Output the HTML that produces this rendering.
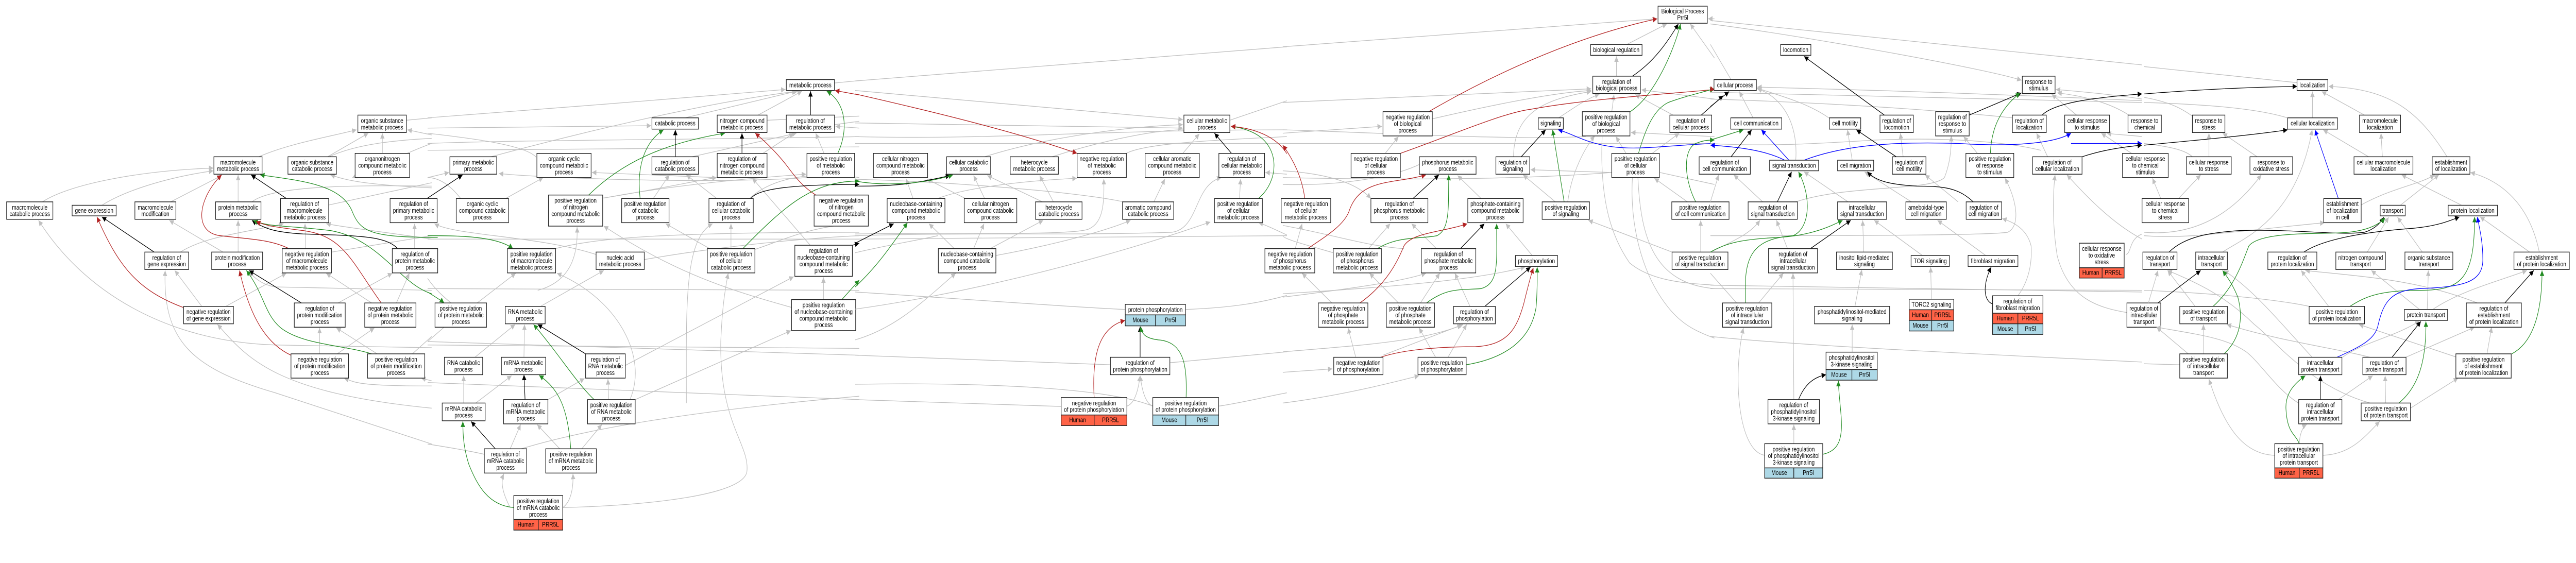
<!DOCTYPE html>
<html><head><meta charset="utf-8"><style>
html,body{margin:0;padding:0;background:#fff;width:100%;height:100%;overflow:hidden}
svg{display:block;width:100vw;height:100vh}
rect{fill:#fff;stroke:#222;stroke-width:2.2}
rect.h{fill:#ff6347}
rect.m{fill:#add8e6}
text{font-family:"Liberation Sans",Arial,sans-serif;font-size:19px;text-anchor:middle;fill:#000}
path{fill:none;stroke-width:2}
.e{stroke:#c0c0c0;marker-end:url(#ag)}
.n{stroke:#c0c0c0}
.k{stroke:#000;marker-end:url(#ak)}
.r{stroke:#b22222;marker-end:url(#ar)}
.gr{stroke:#228b22;marker-end:url(#agr)}
.b{stroke:#0000ff;marker-end:url(#ab)}
</style></head><body>
<svg viewBox="0 0 6205 1093" preserveAspectRatio="none" xmlns="http://www.w3.org/2000/svg">
<defs>
<marker id="ag" viewBox="0 0 10 10" refX="10" refY="5" markerWidth="16" markerHeight="16" markerUnits="userSpaceOnUse" orient="auto"><path d="M0,0L10,5L0,10z" style="fill:#c0c0c0;stroke:none"/></marker>
<marker id="ak" viewBox="0 0 10 10" refX="10" refY="5" markerWidth="16" markerHeight="16" markerUnits="userSpaceOnUse" orient="auto"><path d="M0,0L10,5L0,10z" style="fill:#000;stroke:none"/></marker>
<marker id="ar" viewBox="0 0 10 10" refX="10" refY="5" markerWidth="16" markerHeight="16" markerUnits="userSpaceOnUse" orient="auto"><path d="M0,0L10,5L0,10z" style="fill:#b22222;stroke:none"/></marker>
<marker id="agr" viewBox="0 0 10 10" refX="10" refY="5" markerWidth="16" markerHeight="16" markerUnits="userSpaceOnUse" orient="auto"><path d="M0,0L10,5L0,10z" style="fill:#228b22;stroke:none"/></marker>
<marker id="ab" viewBox="0 0 10 10" refX="10" refY="5" markerWidth="16" markerHeight="16" markerUnits="userSpaceOnUse" orient="auto"><path d="M0,0L10,5L0,10z" style="fill:#0000ff;stroke:none"/></marker>
</defs>

<!-- REGION 1 -->
<g transform="translate(0,0) scale(0.6631)">
<path class="e" d="M154,591 C250,540 500,500 775,492"/>
<path class="e" d="M370,601 C450,560 600,520 775,500"/>
<path class="e" d="M620,591 L805,514"/>
<path class="e" d="M865,591 L865,512"/>
<path class="e" d="M940,459 C1050,420 1200,400 1295,380"/>
<path class="e" d="M1190,459 L1338,390"/>
<path class="e" d="M1389,449 L1389,390"/>
<path class="n" d="M1476,352 L1568,345"/>
<path class="e" d="M1568,395 L1480,380"/>
<path class="n" d="M1195,459 C1300,420 1450,410 1568,405"/>
<path class="e" d="M865,738 L865,645"/>
<path class="e" d="M810,738 L615,645"/>
<path class="e" d="M655,738 C750,690 900,680 1030,655"/>
<path class="e" d="M733,897 L635,792"/>
<path class="e" d="M820,897 L1040,800"/>
<path class="e" d="M1110,728 L1108,655"/>
<path class="n" d="M1205,738 L1568,690"/>
<path class="e" d="M1506,728 L1506,655"/>
<path class="e" d="M1228,887 L1425,800"/>
<path class="e" d="M1350,887 L1185,800"/>
<path class="e" d="M1440,887 L1487,800"/>
<path class="e" d="M1161,1036 L1161,960"/>
<path class="e" d="M1225,1036 L1360,960"/>
<path class="e" d="M1370,1036 L1222,960"/>
<path class="n" d="M1498,1036 L1568,985"/>
<path class="e" d="M1568,1018 L1000,1010 C600,1000 300,850 140,645"/>
<path class="e" d="M1568,1300 L1000,1150 C700,1080 590,1000 600,792"/>
<path class="e" d="M1568,1195 C1000,1150 900,1050 790,950"/>
<path class="e" d="M1568,1130 C1300,1130 1290,1120 1250,1107"/>
<path class="e" d="M1568,1115 L1530,1107"/>
<path class="n" d="M915,591 C980,550 1200,540 1568,545"/>
<path class="n" d="M1195,600 L1568,535"/>
<path class="e" d="M1568,550 C1300,540 1250,525 1200,512"/>
<path class="e" d="M1568,850 L1000,840 C960,835 930,820 905,795"/>
<path class="e" d="M1568,700 C1400,680 1250,665 1185,655"/>
<path class="e" d="M1568,420 C1500,440 1420,470 1280,520"/>
<path class="k" d="M560,738 L370,635"/>
<path class="r" d="M665,900 C500,850 430,780 352,635"/>
<path class="k" d="M1040,581 L912,512"/>
<path class="gr" d="M1590,695 C1350,695 1310,680 1280,620 C1240,540 1100,530 945,512"/>
<path class="r" d="M1050,728 C980,700 900,700 800,690 C700,680 720,580 805,512"/>
<path class="k" d="M1445,728 C1400,690 1300,690 1100,685 C1000,680 960,670 915,645"/>
<path class="gr" d="M1568,860 C1450,830 1380,700 1200,675 C1050,660 970,665 920,645"/>
<path class="r" d="M1385,887 C1280,770 1250,690 1100,675 C1000,665 960,660 930,648"/>
<path class="k" d="M1095,887 L905,792"/>
<path class="r" d="M1057,1040 C950,1000 900,900 870,792"/>
<path class="gr" d="M1350,1036 C1250,1010 1100,1010 1020,960 C960,920 960,860 895,792"/>

<rect x="1300" y="337" width="176" height="51"/><text x="1388" y="359.5"><tspan x="1388">organic substance</tspan><tspan x="1388" dy="19.5">metabolic process</tspan></text>
<rect x="777" y="459" width="175" height="51"/><text x="864.5" y="481.5"><tspan x="864.5">macromolecule</tspan><tspan x="864.5" dy="19.5">metabolic process</tspan></text>
<rect x="1046" y="459" width="176" height="51"/><text x="1134" y="481.5"><tspan x="1134">organic substance</tspan><tspan x="1134" dy="19.5">catabolic process</tspan></text>
<rect x="1290" y="449" width="198" height="71"/><text x="1389" y="471.5"><tspan x="1389">organonitrogen</tspan><tspan x="1389" dy="19.5">compound metabolic</tspan><tspan x="1389" dy="19.5">process</tspan></text>
<rect x="24" y="591" width="168" height="51"/><text x="108" y="613.5"><tspan x="108">macromolecule</tspan><tspan x="108" dy="19.5">catabolic process</tspan></text>
<rect x="262" y="601" width="160" height="31"/><text x="342" y="623">gene expression</text>
<rect x="490" y="591" width="149" height="51"/><text x="564.5" y="613.5"><tspan x="564.5">macromolecule</tspan><tspan x="564.5" dy="19.5">modification</tspan></text>
<rect x="783" y="591" width="165" height="51"/><text x="865.5" y="613.5"><tspan x="865.5">protein metabolic</tspan><tspan x="865.5" dy="19.5">process</tspan></text>
<rect x="1019" y="581" width="175" height="71"/><text x="1106.5" y="603.5"><tspan x="1106.5">regulation of</tspan><tspan x="1106.5" dy="19.5">macromolecule</tspan><tspan x="1106.5" dy="19.5">metabolic process</tspan></text>
<rect x="1417" y="581" width="171" height="71"/><text x="1502.5" y="603.5"><tspan x="1502.5">regulation of</tspan><tspan x="1502.5" dy="19.5">primary metabolic</tspan><tspan x="1502.5" dy="19.5">process</tspan></text>
<rect x="526" y="738" width="159" height="51"/><text x="605.5" y="760.5"><tspan x="605.5">regulation of</tspan><tspan x="605.5" dy="19.5">gene expression</tspan></text>
<rect x="769" y="738" width="185" height="51"/><text x="861.5" y="760.5"><tspan x="861.5">protein modification</tspan><tspan x="861.5" dy="19.5">process</tspan></text>
<rect x="1025" y="728" width="179" height="71"/><text x="1114.5" y="750.5"><tspan x="1114.5">negative regulation</tspan><tspan x="1114.5" dy="19.5">of macromolecule</tspan><tspan x="1114.5" dy="19.5">metabolic process</tspan></text>
<rect x="1425" y="728" width="165" height="71"/><text x="1507.5" y="750.5"><tspan x="1507.5">regulation of</tspan><tspan x="1507.5" dy="19.5">protein metabolic</tspan><tspan x="1507.5" dy="19.5">process</tspan></text>
<rect x="667" y="897" width="181" height="51"/><text x="757.5" y="919.5"><tspan x="757.5">negative regulation</tspan><tspan x="757.5" dy="19.5">of gene expression</tspan></text>
<rect x="1069" y="887" width="185" height="71"/><text x="1161.5" y="909.5"><tspan x="1161.5">regulation of</tspan><tspan x="1161.5" dy="19.5">protein modification</tspan><tspan x="1161.5" dy="19.5">process</tspan></text>
<rect x="1325" y="887" width="186" height="71"/><text x="1418" y="909.5"><tspan x="1418">negative regulation</tspan><tspan x="1418" dy="19.5">of protein metabolic</tspan><tspan x="1418" dy="19.5">process</tspan></text>
<rect x="1057" y="1036" width="209" height="71"/><text x="1161.5" y="1058.5"><tspan x="1161.5">negative regulation</tspan><tspan x="1161.5" dy="19.5">of protein modification</tspan><tspan x="1161.5" dy="19.5">process</tspan></text>
<rect x="1335" y="1036" width="208" height="71"/><text x="1439" y="1058.5"><tspan x="1439">positive regulation</tspan><tspan x="1439" dy="19.5">of protein modification</tspan><tspan x="1439" dy="19.5">process</tspan></text>
</g>

<!-- REGION 2 -->
<g transform="translate(1030,0) scale(0.6631)">
<path class="e" d="M0,345 C400,320 900,290 1300,262"/>
<path class="e" d="M230,459 C500,400 1000,300 1345,267"/>
<path class="e" d="M935,345 L1340,267"/>
<path class="e" d="M1200,337 L1360,267"/>
<path class="e" d="M0,375 L812,368"/>
<path class="n" d="M1233,352 L1568,340"/>
<path class="n" d="M1478,365 L1568,355"/>
<path class="e" d="M1568,375 L1482,370"/>
<path class="n" d="M1478,243 L1568,236"/>
<path class="e" d="M1440,449 L1410,390"/>
<path class="e" d="M960,459 L1340,390"/>
<path class="e" d="M1218,449 L1330,390"/>
<path class="e" d="M0,520 L78,505"/>
<path class="n" d="M394,460 C350,420 100,400 0,390"/>
<path class="e" d="M284,581 L420,520"/>
<path class="n" d="M120,581 C80,540 40,520 0,520"/>
<path class="e" d="M1050,520 L597,505"/>
<path class="e" d="M1378,520 C1000,540 400,520 259,508"/>
<path class="e" d="M820,581 L878,512"/>
<path class="e" d="M1050,581 L940,512"/>
<path class="n" d="M1170,581 C1250,520 1400,500 1568,520"/>
<path class="e" d="M1390,718 L1180,522"/>
<path class="e" d="M636,580 C800,560 1000,525 1050,520"/>
<path class="e" d="M640,580 C900,540 1200,520 1375,510"/>
<path class="e" d="M400,850 C540,820 545,720 543,665"/>
<path class="n" d="M463,728 C600,700 800,680 1568,680"/>
<path class="e" d="M612,745 C400,690 100,690 25,655"/>
<path class="n" d="M787,760 C1000,730 1300,700 1568,690"/>
<path class="e" d="M1102,728 L1102,655"/>
<path class="e" d="M1025,728 L865,655"/>
<path class="n" d="M1190,730 C1300,700 1400,660 1568,655"/>
<path class="e" d="M1438,877 L1438,812"/>
<path class="e" d="M1322,900 C1100,850 900,800 640,662"/>
<path class="n" d="M0,815 C30,850 60,870 85,887"/>
<path class="e" d="M180,887 L320,800"/>
<path class="n" d="M60,958 L0,1000"/>
<path class="n" d="M0,845 L1568,850"/>
<path class="e" d="M410,897 L640,792"/>
<path class="e" d="M172,1046 L318,950"/>
<path class="e" d="M350,1046 L352,950"/>
<path class="e" d="M131,1180 L131,1100"/>
<path class="e" d="M175,1180 L305,1100"/>
<path class="e" d="M437,1170 L570,1108"/>
<path class="e" d="M718,1070 L1330,810"/>
<path class="e" d="M658,1170 L655,1110"/>
<path class="e" d="M754,1170 L1320,968"/>
<path class="e" d="M735,1170 C800,1050 700,880 470,800"/>
<path class="e" d="M300,1314 L338,1243"/>
<path class="n" d="M340,1314 C600,1250 1000,1200 1568,1160"/>
<path class="e" d="M480,1314 L398,1243"/>
<path class="e" d="M560,1314 L633,1243"/>
<path class="e" d="M300,1486 C270,1440 265,1410 277,1387"/>
<path class="e" d="M491,1486 C520,1470 530,1430 528,1387"/>
<path class="e" d="M491,1486 C800,1480 1150,1450 1160,1380 C1170,1300 1060,1240 1065,1000 C1070,900 1080,850 1092,800"/>
<path class="e" d="M940,1180 C940,900 930,700 1035,655"/>
<path class="n" d="M0,1300 C80,1310 150,1320 206,1330"/>
<path class="n" d="M0,1120 L1568,1170"/>
<path class="n" d="M0,1000 L1568,1040"/>
<path class="n" d="M0,1010 L1568,1020"/>
<path class="n" d="M0,700 L1568,700"/>
<path class="n" d="M0,420 C300,410 900,410 1568,400"/>
<path class="n" d="M0,440 L1568,430"/>
<path class="k" d="M0,580 L127,512"/>
<path class="gr" d="M585,571 C700,480 850,420 1080,390"/>
<path class="gr" d="M772,581 C760,500 780,420 857,380"/>
<path class="k" d="M900,459 L900,380"/>
<path class="k" d="M1142,449 L1142,390"/>
<path class="r" d="M1410,571 C1350,540 1320,500 1300,480 C1260,440 1220,410 1190,390"/>
<path class="k" d="M1391,337 L1391,267"/>
<path class="gr" d="M1490,449 C1530,380 1520,300 1450,267"/>
<path class="r" d="M1568,278 L1480,265"/>
<path class="k" d="M1175,581 C1200,550 1350,540 1568,540"/>
<path class="gr" d="M1145,728 C1300,600 1400,530 1568,530"/>
<path class="gr" d="M0,690 C100,690 250,690 310,728"/>
<path class="gr" d="M0,855 C30,870 50,880 60,887"/>
<path class="k" d="M574,1036 L400,950"/>
<path class="gr" d="M605,1170 C540,1120 480,1040 385,950"/>
<path class="k" d="M354,1170 L350,1097"/>
<path class="gr" d="M520,1314 C510,1200 480,1140 405,1099"/>
<path class="k" d="M246,1314 L158,1234"/>
<path class="gr" d="M313,1486 C220,1480 180,1420 150,1360 C130,1310 128,1270 128,1234"/>
<path class="k" d="M1543,718 L1568,712"/>
<path class="gr" d="M1505,877 L1568,820"/>

<rect x="1303" y="233" width="175" height="32"/><text x="1390.5" y="255.5">metabolic process</text>
<rect x="815" y="345" width="169" height="33"/><text x="899.5" y="367.5">catabolic process</text>
<rect x="1052" y="337" width="181" height="51"/><text x="1142.5" y="359.5"><tspan x="1142.5">nitrogen compound</tspan><tspan x="1142.5" dy="19.5">metabolic process</tspan></text>
<rect x="1303" y="337" width="175" height="51"/><text x="1390.5" y="359.5"><tspan x="1390.5">regulation of</tspan><tspan x="1390.5" dy="19.5">metabolic process</tspan></text>
<rect x="81" y="459" width="170" height="51"/><text x="166" y="481.5"><tspan x="166">primary metabolic</tspan><tspan x="166" dy="19.5">process</tspan></text>
<rect x="397" y="449" width="197" height="71"/><text x="495.5" y="471.5"><tspan x="495.5">organic cyclic</tspan><tspan x="495.5" dy="19.5">compound metabolic</tspan><tspan x="495.5" dy="19.5">process</tspan></text>
<rect x="815" y="459" width="169" height="51"/><text x="899.5" y="481.5"><tspan x="899.5">regulation of</tspan><tspan x="899.5" dy="19.5">catabolic process</tspan></text>
<rect x="1052" y="449" width="181" height="71"/><text x="1142.5" y="471.5"><tspan x="1142.5">regulation of</tspan><tspan x="1142.5" dy="19.5">nitrogen compound</tspan><tspan x="1142.5" dy="19.5">metabolic process</tspan></text>
<rect x="1378" y="449" width="173" height="71"/><text x="1464.5" y="471.5"><tspan x="1464.5">positive regulation</tspan><tspan x="1464.5" dy="19.5">of metabolic</tspan><tspan x="1464.5" dy="19.5">process</tspan></text>
<rect x="104" y="581" width="190" height="71"/><text x="199" y="603.5"><tspan x="199">organic cyclic</tspan><tspan x="199" dy="19.5">compound catabolic</tspan><tspan x="199" dy="19.5">process</tspan></text>
<rect x="439" y="571" width="197" height="91"/><text x="537.5" y="593.5"><tspan x="537.5">positive regulation</tspan><tspan x="537.5" dy="19.5">of nitrogen</tspan><tspan x="537.5" dy="19.5">compound metabolic</tspan><tspan x="537.5" dy="19.5">process</tspan></text>
<rect x="705" y="581" width="172" height="71"/><text x="791" y="603.5"><tspan x="791">positive regulation</tspan><tspan x="791" dy="19.5">of catabolic</tspan><tspan x="791" dy="19.5">process</tspan></text>
<rect x="1022" y="581" width="161" height="71"/><text x="1102.5" y="603.5"><tspan x="1102.5">regulation of</tspan><tspan x="1102.5" dy="19.5">cellular catabolic</tspan><tspan x="1102.5" dy="19.5">process</tspan></text>
<rect x="1404" y="571" width="197" height="91"/><text x="1502.5" y="593.5"><tspan x="1502.5">negative regulation</tspan><tspan x="1502.5" dy="19.5">of nitrogen</tspan><tspan x="1502.5" dy="19.5">compound metabolic</tspan><tspan x="1502.5" dy="19.5">process</tspan></text>
<rect x="290" y="728" width="175" height="71"/><text x="377.5" y="750.5"><tspan x="377.5">positive regulation</tspan><tspan x="377.5" dy="19.5">of macromolecule</tspan><tspan x="377.5" dy="19.5">metabolic process</tspan></text>
<rect x="612" y="738" width="175" height="51"/><text x="699.5" y="760.5"><tspan x="699.5">nucleic acid</tspan><tspan x="699.5" dy="19.5">metabolic process</tspan></text>
<rect x="1016" y="728" width="173" height="71"/><text x="1102.5" y="750.5"><tspan x="1102.5">positive regulation</tspan><tspan x="1102.5" dy="19.5">of cellular</tspan><tspan x="1102.5" dy="19.5">catabolic process</tspan></text>
<rect x="1334" y="718" width="209" height="91"/><text x="1438.5" y="740.5"><tspan x="1438.5">regulation of</tspan><tspan x="1438.5" dy="19.5">nucleobase-containing</tspan><tspan x="1438.5" dy="19.5">compound metabolic</tspan><tspan x="1438.5" dy="19.5">process</tspan></text>
<rect x="27" y="887" width="187" height="71"/><text x="120.5" y="909.5"><tspan x="120.5">positive regulation</tspan><tspan x="120.5" dy="19.5">of protein metabolic</tspan><tspan x="120.5" dy="19.5">process</tspan></text>
<rect x="282" y="897" width="145" height="51"/><text x="354.5" y="919.5"><tspan x="354.5">RNA metabolic</tspan><tspan x="354.5" dy="19.5">process</tspan></text>
<rect x="1322" y="877" width="233" height="91"/><text x="1438.5" y="899.5"><tspan x="1438.5">positive regulation</tspan><tspan x="1438.5" dy="19.5">of nucleobase-containing</tspan><tspan x="1438.5" dy="19.5">compound metabolic</tspan><tspan x="1438.5" dy="19.5">process</tspan></text>
<rect x="61" y="1046" width="139" height="51"/><text x="130.5" y="1068.5"><tspan x="130.5">RNA catabolic</tspan><tspan x="130.5" dy="19.5">process</tspan></text>
<rect x="268" y="1046" width="161" height="51"/><text x="348.5" y="1068.5"><tspan x="348.5">mRNA metabolic</tspan><tspan x="348.5" dy="19.5">process</tspan></text>
<rect x="574" y="1036" width="144" height="71"/><text x="646" y="1058.5"><tspan x="646">regulation of</tspan><tspan x="646" dy="19.5">RNA metabolic</tspan><tspan x="646" dy="19.5">process</tspan></text>
<rect x="53" y="1180" width="156" height="52"/><text x="131" y="1202.5"><tspan x="131">mRNA catabolic</tspan><tspan x="131" dy="19.5">process</tspan></text>
<rect x="276" y="1170" width="161" height="71"/><text x="356.5" y="1192.5"><tspan x="356.5">regulation of</tspan><tspan x="356.5" dy="19.5">mRNA metabolic</tspan><tspan x="356.5" dy="19.5">process</tspan></text>
<rect x="581" y="1170" width="173" height="71"/><text x="667.5" y="1192.5"><tspan x="667.5">positive regulation</tspan><tspan x="667.5" dy="19.5">of RNA metabolic</tspan><tspan x="667.5" dy="19.5">process</tspan></text>
<rect x="206" y="1314" width="154" height="71"/><text x="283" y="1336.5"><tspan x="283">regulation of</tspan><tspan x="283" dy="19.5">mRNA catabolic</tspan><tspan x="283" dy="19.5">process</tspan></text>
<rect x="429" y="1314" width="184" height="71"/><text x="521" y="1336.5"><tspan x="521">positive regulation</tspan><tspan x="521" dy="19.5">of mRNA metabolic</tspan><tspan x="521" dy="19.5">process</tspan></text>
<rect x="313" y="1451" width="178" height="70"/><text x="402" y="1473.5"><tspan x="402">positive regulation</tspan><tspan x="402" dy="19.5">of mRNA catabolic</tspan><tspan x="402" dy="19.5">process</tspan></text>
<rect class="h" x="313" y="1521" width="89" height="31"/><text x="357.5" y="1542">Human</text>
<rect class="h" x="402" y="1521" width="89" height="31"/><text x="446.5" y="1542">PRR5L</text>
</g>

<!-- REGION 3 -->
<g transform="translate(2060,0) scale(0.6631)">
<path class="n" d="M0,237 L1568,137"/>
<path class="e" d="M0,265 C500,300 900,330 1190,350"/>
<path class="n" d="M1361,352 L1568,295"/>
<path class="e" d="M0,360 L1190,375"/>
<path class="n" d="M0,420 L1568,420"/>
<path class="n" d="M0,400 C500,410 900,380 1568,380"/>
<path class="e" d="M470,459 C700,400 1000,370 1190,365"/>
<path class="n" d="M715,459 C900,410 1100,380 1190,380"/>
<path class="n" d="M985,449 C1050,420 1300,410 1568,400"/>
<path class="e" d="M1190,449 L1250,392"/>
<path class="e" d="M1396,581 L1400,524"/>
<path class="e" d="M210,581 L185,524"/>
<path class="e" d="M400,581 L260,524"/>
<path class="e" d="M470,581 L430,514"/>
<path class="e" d="M680,591 L480,514"/>
<path class="e" d="M720,591 L670,514"/>
<path class="e" d="M1085,591 L1125,524"/>
<path class="n" d="M975,591 C800,560 300,530 0,525"/>
<path class="e" d="M300,581 C400,550 600,530 805,522"/>
<path class="e" d="M360,728 L268,655"/>
<path class="e" d="M430,728 L468,655"/>
<path class="e" d="M490,728 L683,645"/>
<path class="e" d="M511,748 C700,720 900,680 1000,645"/>
<path class="n" d="M0,740 C100,720 250,700 300,690"/>
<path class="n" d="M0,855 C300,870 800,900 981,906"/>
<path class="n" d="M1200,906 C1400,900 1500,880 1568,865"/>
<path class="e" d="M0,995 C150,960 250,880 365,800"/>
<path class="e" d="M0,905 C400,860 900,760 1290,650"/>
<path class="e" d="M0,690 C400,680 800,690 1150,680 C1250,670 1230,540 1330,520"/>
<path class="n" d="M0,1040 L927,1068"/>
<path class="n" d="M1143,1062 L1568,1030"/>
<path class="e" d="M987,1189 C1020,1180 1030,1130 1035,1100"/>
<path class="e" d="M1081,1189 C1050,1180 1040,1130 1035,1100"/>
<path class="n" d="M0,1125 C400,1120 900,1130 1081,1189"/>
<path class="n" d="M0,1170 L748,1190"/>
<path class="n" d="M1320,1189 C1400,1180 1500,1160 1568,1150"/>
<path class="e" d="M1568,688 C1520,670 1480,655 1465,652"/>
<path class="e" d="M0,685 C400,680 800,690 850,670 C900,650 905,600 903,524"/>
<path class="e" d="M1568,510 L1490,505"/>
<path class="n" d="M0,700 L1568,690"/>
<path class="r" d="M0,275 C300,330 600,390 806,449"/>
<path class="k" d="M0,712 L140,655"/>
<path class="gr" d="M0,840 C80,780 130,720 190,652"/>
<path class="k" d="M0,545 C150,545 200,540 345,514"/>
<path class="gr" d="M0,530 C100,545 250,540 355,512"/>
<path class="k" d="M1035,1046 L1035,956"/>
<path class="r" d="M868,1164 C860,1050 880,960 980,938"/>
<path class="gr" d="M1202,1164 C1205,1080 1200,1000 1100,995 C1050,990 1040,975 1037,956"/>
<path class="k" d="M1367,449 L1305,390"/>
<path class="gr" d="M1465,581 C1540,530 1545,430 1450,390 C1420,378 1390,372 1365,370"/>
<path class="r" d="M1568,450 C1530,400 1450,375 1365,370"/>

<rect x="1194" y="337" width="167" height="51"/><text x="1277.5" y="359.5"><tspan x="1277.5">cellular metabolic</tspan><tspan x="1277.5" dy="19.5">process</tspan></text>
<rect x="66" y="449" width="197" height="71"/><text x="164.5" y="471.5"><tspan x="164.5">cellular nitrogen</tspan><tspan x="164.5" dy="19.5">compound metabolic</tspan><tspan x="164.5" dy="19.5">process</tspan></text>
<rect x="332" y="459" width="160" height="51"/><text x="412" y="481.5"><tspan x="412">cellular catabolic</tspan><tspan x="412" dy="19.5">process</tspan></text>
<rect x="563" y="459" width="175" height="51"/><text x="650.5" y="481.5"><tspan x="650.5">heterocycle</tspan><tspan x="650.5" dy="19.5">metabolic process</tspan></text>
<rect x="806" y="449" width="179" height="71"/><text x="895.5" y="471.5"><tspan x="895.5">negative regulation</tspan><tspan x="895.5" dy="19.5">of metabolic</tspan><tspan x="895.5" dy="19.5">process</tspan></text>
<rect x="1053" y="449" width="197" height="71"/><text x="1151.5" y="471.5"><tspan x="1151.5">cellular aromatic</tspan><tspan x="1151.5" dy="19.5">compound metabolic</tspan><tspan x="1151.5" dy="19.5">process</tspan></text>
<rect x="1321" y="449" width="166" height="71"/><text x="1404" y="471.5"><tspan x="1404">regulation of</tspan><tspan x="1404" dy="19.5">cellular metabolic</tspan><tspan x="1404" dy="19.5">process</tspan></text>
<rect x="116" y="581" width="210" height="71"/><text x="221" y="603.5"><tspan x="221">nucleobase-containing</tspan><tspan x="221" dy="19.5">compound metabolic</tspan><tspan x="221" dy="19.5">process</tspan></text>
<rect x="396" y="581" width="191" height="71"/><text x="491.5" y="603.5"><tspan x="491.5">cellular nitrogen</tspan><tspan x="491.5" dy="19.5">compound catabolic</tspan><tspan x="491.5" dy="19.5">process</tspan></text>
<rect x="655" y="591" width="169" height="51"/><text x="739.5" y="613.5"><tspan x="739.5">heterocycle</tspan><tspan x="739.5" dy="19.5">catabolic process</tspan></text>
<rect x="971" y="591" width="186" height="51"/><text x="1064" y="613.5"><tspan x="1064">aromatic compound</tspan><tspan x="1064" dy="19.5">catabolic process</tspan></text>
<rect x="1305" y="581" width="174" height="71"/><text x="1392" y="603.5"><tspan x="1392">positive regulation</tspan><tspan x="1392" dy="19.5">of cellular</tspan><tspan x="1392" dy="19.5">metabolic process</tspan></text>
<rect x="302" y="728" width="209" height="71"/><text x="406.5" y="750.5"><tspan x="406.5">nucleobase-containing</tspan><tspan x="406.5" dy="19.5">compound catabolic</tspan><tspan x="406.5" dy="19.5">process</tspan></text>
<rect x="981" y="891" width="219" height="31"/><text x="1090.5" y="913">protein phosphorylation</text>
<rect class="m" x="981" y="922" width="110" height="32"/><text x="1036" y="943.5">Mouse</text>
<rect class="m" x="1091" y="922" width="109" height="32"/><text x="1145.5" y="943.5">Prr5l</text>
<rect x="927" y="1046" width="216" height="51"/><text x="1035" y="1068.5"><tspan x="1035">regulation of</tspan><tspan x="1035" dy="19.5">protein phosphorylation</tspan></text>
<rect x="748" y="1164" width="239" height="51"/><text x="867.5" y="1186.5"><tspan x="867.5">negative regulation</tspan><tspan x="867.5" dy="19.5">of protein phosphorylation</tspan></text>
<rect class="h" x="748" y="1215" width="120" height="31"/><text x="808" y="1236">Human</text>
<rect class="h" x="868" y="1215" width="119" height="31"/><text x="927.5" y="1236">PRR5L</text>
<rect x="1081" y="1164" width="239" height="51"/><text x="1200.5" y="1186.5"><tspan x="1200.5">positive regulation</tspan><tspan x="1200.5" dy="19.5">of protein phosphorylation</tspan></text>
<rect class="m" x="1081" y="1215" width="120" height="31"/><text x="1141" y="1236">Mouse</text>
<rect class="m" x="1201" y="1215" width="119" height="31"/><text x="1260.5" y="1236">Prr5l</text>
</g>

<!-- REGION 4 -->
<g transform="translate(3090,0) scale(0.6631)">
<path class="e" d="M0,137 L1360,55"/>
<path class="e" d="M1250,130 L1395,70"/>
<path class="e" d="M1212,223 L1212,165"/>
<path class="e" d="M1568,170 L1480,70"/>
<path class="e" d="M1568,55 L1545,55"/>
<path class="e" d="M0,300 L1120,260"/>
<path class="e" d="M0,390 L360,370"/>
<path class="e" d="M543,348 C800,300 1000,270 1120,265"/>
<path class="e" d="M1195,327 L1203,277"/>
<path class="e" d="M1002,345 C1050,320 1100,290 1150,276"/>
<path class="e" d="M838,459 C840,330 950,290 1120,268"/>
<path class="e" d="M1418,337 L1280,277"/>
<path class="e" d="M1568,290 L1303,263"/>
<path class="e" d="M372,449 L420,400"/>
<path class="e" d="M1247,449 L1210,400"/>
<path class="e" d="M1342,449 L1440,390"/>
<path class="e" d="M1568,400 L1265,388"/>
<path class="e" d="M720,581 L635,514"/>
<path class="n" d="M0,420 L1568,420"/>
<path class="n" d="M0,380 C400,390 800,410 1100,400"/>
<path class="e" d="M1195,505 L900,497"/>
<path class="e" d="M990,591 L873,512"/>
<path class="e" d="M1035,591 C1050,500 1100,430 1133,398"/>
<path class="e" d="M1470,591 L1350,522"/>
<path class="e" d="M1518,738 L1518,645"/>
<path class="e" d="M1414,738 L1110,645"/>
<path class="n" d="M183,740 C100,720 0,700 0,690"/>
<path class="e" d="M311,728 L390,655"/>
<path class="e" d="M558,728 L468,655"/>
<path class="e" d="M906,748 L810,655"/>
<path class="e" d="M45,728 L70,655"/>
<path class="e" d="M178,887 L70,800"/>
<path class="e" d="M420,887 L315,800"/>
<path class="e" d="M500,887 L570,800"/>
<path class="e" d="M680,897 L625,800"/>
<path class="e" d="M0,870 C300,840 450,820 520,800"/>
<path class="e" d="M0,860 C400,840 700,820 880,782"/>
<path class="e" d="M265,1046 L237,960"/>
<path class="e" d="M555,1046 L495,960"/>
<path class="e" d="M600,1046 L668,950"/>
<path class="e" d="M364,1040 L655,950"/>
<path class="e" d="M0,1030 C300,1010 500,1000 650,952"/>
<path class="e" d="M0,1090 L180,1080"/>
<path class="e" d="M0,1180 C200,1160 400,1120 495,1100"/>
<path class="n" d="M1160,400 C1150,600 1200,700 1260,770 C1350,830 1500,830 1568,835"/>
<path class="n" d="M1290,520 C1300,700 1350,830 1568,845"/>
<path class="n" d="M1270,520 C1260,650 1300,800 1400,900 C1450,950 1500,970 1568,990"/>
<path class="n" d="M0,520 C300,525 800,530 1195,505"/>
<path class="n" d="M0,540 C200,545 400,520 500,480"/>
<path class="e" d="M0,500 C100,505 250,520 320,581"/>
<path class="n" d="M0,660 C200,690 300,720 440,728"/>
<path class="n" d="M1370,505 L1568,540"/>
<path class="r" d="M530,327 C800,200 1100,100 1360,55"/>
<path class="k" d="M1270,223 C1350,180 1400,120 1437,70"/>
<path class="gr" d="M1262,327 C1350,280 1420,150 1445,70"/>
<path class="r" d="M427,449 C600,400 800,330 900,320 C1100,290 1400,275 1568,262"/>
<path class="gr" d="M1292,449 C1320,370 1350,320 1400,300 C1450,285 1500,275 1568,260"/>
<path class="k" d="M1520,337 L1600,280"/>
<path class="k" d="M866,459 L955,380"/>
<path class="gr" d="M1022,591 L980,380"/>
<path class="b" d="M1568,420 C1400,425 1300,440 1200,430 C1100,420 1050,390 1000,380"/>
<path class="gr" d="M1500,591 C1460,530 1450,440 1500,420 C1530,410 1550,410 1568,410"/>
<path class="r" d="M90,728 C160,690 220,660 240,620 C280,520 400,540 520,512"/>
<path class="k" d="M473,581 L567,512"/>
<path class="gr" d="M343,728 C420,690 500,700 560,690 C610,670 600,600 603,512"/>
<path class="r" d="M280,887 C380,830 420,760 440,720 C470,680 580,680 670,655"/>
<path class="k" d="M645,728 L732,655"/>
<path class="gr" d="M522,887 C600,840 650,850 720,845 C790,830 775,760 777,655"/>
<path class="k" d="M734,897 L900,782"/>
<path class="r" d="M355,1046 C450,1020 600,1015 700,1015 C820,1010 850,960 875,890 C890,840 900,810 910,784"/>
<path class="gr" d="M666,1068 C800,1050 900,1000 920,900 C925,850 924,810 924,782"/>
<path class="r" d="M80,581 C70,520 40,470 0,425"/>

<rect x="1363" y="18" width="179" height="50"/><text x="1452.5" y="39"><tspan x="1452.5">Biological Process</tspan><tspan x="1452.5" dy="19">Prr5l</tspan></text>
<rect x="1118" y="130" width="187" height="32"/><text x="1211.5" y="152.5">biological regulation</text>
<rect x="1126" y="223" width="173" height="51"/><text x="1212.5" y="245.5"><tspan x="1212.5">regulation of</tspan><tspan x="1212.5" dy="19.5">biological process</tspan></text>
<rect x="364" y="327" width="179" height="71"/><text x="453.5" y="349.5"><tspan x="453.5">negative regulation</tspan><tspan x="453.5" dy="19.5">of biological</tspan><tspan x="453.5" dy="19.5">process</tspan></text>
<rect x="928" y="345" width="91" height="33"/><text x="973.5" y="367.5">signaling</text>
<rect x="1088" y="327" width="173" height="71"/><text x="1174.5" y="349.5"><tspan x="1174.5">positive regulation</tspan><tspan x="1174.5" dy="19.5">of biological</tspan><tspan x="1174.5" dy="19.5">process</tspan></text>
<rect x="1406" y="337" width="152" height="51"/><text x="1482" y="359.5"><tspan x="1482">regulation of</tspan><tspan x="1482" dy="19.5">cellular process</tspan></text>
<rect x="248" y="449" width="179" height="71"/><text x="337.5" y="471.5"><tspan x="337.5">negative regulation</tspan><tspan x="337.5" dy="19.5">of cellular</tspan><tspan x="337.5" dy="19.5">process</tspan></text>
<rect x="496" y="459" width="206" height="51"/><text x="599" y="481.5"><tspan x="599">phosphorus metabolic</tspan><tspan x="599" dy="19.5">process</tspan></text>
<rect x="774" y="459" width="123" height="51"/><text x="835.5" y="481.5"><tspan x="835.5">regulation of</tspan><tspan x="835.5" dy="19.5">signaling</tspan></text>
<rect x="1195" y="449" width="173" height="71"/><text x="1281.5" y="471.5"><tspan x="1281.5">positive regulation</tspan><tspan x="1281.5" dy="19.5">of cellular</tspan><tspan x="1281.5" dy="19.5">process</tspan></text>
<rect x="-6" y="581" width="180" height="71"/><text x="84" y="603.5"><tspan x="84">negative regulation</tspan><tspan x="84" dy="19.5">of cellular</tspan><tspan x="84" dy="19.5">metabolic process</tspan></text>
<rect x="320" y="581" width="207" height="71"/><text x="423.5" y="603.5"><tspan x="423.5">regulation of</tspan><tspan x="423.5" dy="19.5">phosphorus metabolic</tspan><tspan x="423.5" dy="19.5">process</tspan></text>
<rect x="672" y="581" width="201" height="71"/><text x="772.5" y="603.5"><tspan x="772.5">phosphate-containing</tspan><tspan x="772.5" dy="19.5">compound metabolic</tspan><tspan x="772.5" dy="19.5">process</tspan></text>
<rect x="942" y="591" width="172" height="51"/><text x="1028" y="613.5"><tspan x="1028">positive regulation</tspan><tspan x="1028" dy="19.5">of signaling</tspan></text>
<rect x="1413" y="591" width="208" height="51"/><text x="1517" y="613.5"><tspan x="1517">positive regulation</tspan><tspan x="1517" dy="19.5">of cell communication</tspan></text>
<rect x="-65" y="728" width="181" height="71"/><text x="25.5" y="750.5"><tspan x="25.5">negative regulation</tspan><tspan x="25.5" dy="19.5">of phosphorus</tspan><tspan x="25.5" dy="19.5">metabolic process</tspan></text>
<rect x="183" y="728" width="175" height="71"/><text x="270.5" y="750.5"><tspan x="270.5">positive regulation</tspan><tspan x="270.5" dy="19.5">of phosphorus</tspan><tspan x="270.5" dy="19.5">metabolic process</tspan></text>
<rect x="503" y="728" width="198" height="71"/><text x="602" y="750.5"><tspan x="602">regulation of</tspan><tspan x="602" dy="19.5">phosphate metabolic</tspan><tspan x="602" dy="19.5">process</tspan></text>
<rect x="845" y="748" width="153" height="32"/><text x="921.5" y="770.5">phosphorylation</text>
<rect x="1414" y="738" width="203" height="51"/><text x="1515.5" y="760.5"><tspan x="1515.5">positive regulation</tspan><tspan x="1515.5" dy="19.5">of signal transduction</tspan></text>
<rect x="129" y="887" width="180" height="71"/><text x="219" y="909.5"><tspan x="219">negative regulation</tspan><tspan x="219" dy="19.5">of phosphate</tspan><tspan x="219" dy="19.5">metabolic process</tspan></text>
<rect x="376" y="887" width="175" height="71"/><text x="463.5" y="909.5"><tspan x="463.5">positive regulation</tspan><tspan x="463.5" dy="19.5">of phosphate</tspan><tspan x="463.5" dy="19.5">metabolic process</tspan></text>
<rect x="620" y="897" width="152" height="51"/><text x="696" y="919.5"><tspan x="696">regulation of</tspan><tspan x="696" dy="19.5">phosphorylation</tspan></text>
<rect x="185" y="1046" width="179" height="51"/><text x="274.5" y="1068.5"><tspan x="274.5">negative regulation</tspan><tspan x="274.5" dy="19.5">of phosphorylation</tspan></text>
<rect x="491" y="1046" width="175" height="51"/><text x="578.5" y="1068.5"><tspan x="578.5">positive regulation</tspan><tspan x="578.5" dy="19.5">of phosphorylation</tspan></text>
</g>

<!-- REGION 5 -->
<g transform="translate(4120,0) scale(0.6631)">
<path class="n" d="M0,60 L1568,190"/>
<path class="e" d="M0,70 C300,100 1000,200 1130,235"/>
<path class="n" d="M0,130 L75,233"/>
<path class="e" d="M1568,295 C900,270 400,260 170,255"/>
<path class="e" d="M155,345 L105,268"/>
<path class="e" d="M310,469 C320,350 250,280 170,260"/>
<path class="e" d="M430,345 C350,300 250,280 170,258"/>
<path class="e" d="M1568,290 C1450,275 1300,265 1255,262"/>
<path class="e" d="M1330,337 L1240,276"/>
<path class="e" d="M1520,337 C1450,300 1350,280 1260,272"/>
<path class="e" d="M515,469 L498,380"/>
<path class="e" d="M700,459 L690,390"/>
<path class="e" d="M970,449 L920,400"/>
<path class="e" d="M1225,459 L1185,390"/>
<path class="e" d="M1530,449 L1420,390"/>
<path class="e" d="M190,591 L85,512"/>
<path class="e" d="M0,591 L30,512"/>
<path class="e" d="M500,591 L340,503"/>
<path class="e" d="M310,591 C500,540 800,560 850,520 C870,480 875,440 875,398"/>
<path class="e" d="M730,591 L560,503"/>
<path class="e" d="M900,591 L780,512"/>
<path class="n" d="M1510,745 C1530,740 1520,700 1568,685"/>
<path class="e" d="M1568,700 C1450,650 1350,560 1295,512"/>
<path class="e" d="M1513,915 C1400,900 1300,870 1260,750 C1240,650 1245,560 1252,512"/>
<path class="n" d="M0,845 L1568,850"/>
<path class="n" d="M0,835 L1568,855"/>
<path class="e" d="M280,728 L240,645"/>
<path class="e" d="M0,738 C100,700 150,680 180,645"/>
<path class="e" d="M557,738 L553,645"/>
<path class="e" d="M770,748 L595,645"/>
<path class="e" d="M1000,748 L825,645"/>
<path class="e" d="M1117,866 C1150,830 1170,780 1165,720 C1150,670 1100,650 1060,640"/>
<path class="e" d="M803,876 L800,782"/>
<path class="n" d="M95,887 L0,800"/>
<path class="e" d="M175,887 L265,800"/>
<path class="e" d="M525,897 L550,790"/>
<path class="e" d="M515,1031 L515,950"/>
<path class="e" d="M303,1170 L300,800"/>
<path class="e" d="M303,1299 L303,1243"/>
<path class="e" d="M197,1333 C100,1320 80,1100 120,960"/>
<path class="n" d="M0,985 C300,1010 800,1030 1568,1060"/>
<path class="e" d="M0,690 C400,690 1000,690 1080,680 C1130,660 1110,580 1070,522"/>
<path class="n" d="M0,420 C200,430 400,420 600,410 C900,400 1100,420 1200,440"/>
<path class="n" d="M0,290 C400,300 800,320 1097,345"/>
<path class="n" d="M0,270 C500,275 1000,285 1568,300"/>
<path class="e" d="M1568,400 C1520,395 1480,395 1440,390"/>
<path class="k" d="M632,337 L340,165"/>
<path class="k" d="M75,459 L150,380"/>
<path class="b" d="M285,469 L185,380"/>
<path class="gr" d="M0,410 C40,400 80,390 120,380"/>
<path class="b" d="M270,469 C200,440 100,430 0,425"/>
<path class="k" d="M0,312 L68,268"/>
<path class="r" d="M0,260 L15,263"/>
<path class="k" d="M243,591 L295,503"/>
<path class="gr" d="M128,887 C120,760 140,700 300,690 C360,670 370,580 320,503"/>
<path class="gr" d="M0,738 C60,710 120,700 250,695 C350,690 420,670 480,645"/>
<path class="k" d="M363,728 L510,645"/>
<path class="k" d="M675,459 L530,380"/>
<path class="k" d="M955,591 C900,550 850,545 750,545 C650,540 600,530 570,503"/>
<path class="k" d="M940,337 L1130,272"/>
<path class="gr" d="M1017,449 C1020,380 1050,320 1125,272"/>
<path class="k" d="M1205,337 C1250,300 1400,285 1568,275"/>
<path class="b" d="M340,469 C500,420 700,415 900,420 C1100,430 1250,420 1310,390"/>
<path class="b" d="M1310,420 L1568,420"/>
<path class="k" d="M1350,459 C1420,440 1500,430 1568,425"/>
<path class="k" d="M1025,890 C990,880 990,830 1020,782"/>
<path class="k" d="M320,1170 C340,1130 370,1105 420,1097"/>
<path class="gr" d="M408,1330 C470,1320 480,1280 475,1220 C470,1170 465,1140 465,1115"/>

<rect x="255" y="130" width="110" height="32"/><text x="310" y="152.5">locomotion</text>
<rect x="13" y="233" width="154" height="32"/><text x="90" y="255.5">cellular process</text>
<rect x="1133" y="223" width="119" height="51"/><text x="1192.5" y="245.5"><tspan x="1192.5">response to</tspan><tspan x="1192.5" dy="19.5">stimulus</tspan></text>
<rect x="74" y="345" width="185" height="33"/><text x="166.5" y="367.5">cell communication</text>
<rect x="432" y="345" width="114" height="33"/><text x="489" y="367.5">cell motility</text>
<rect x="616" y="337" width="121" height="51"/><text x="676.5" y="359.5"><tspan x="676.5">regulation of</tspan><tspan x="676.5" dy="19.5">locomotion</tspan></text>
<rect x="818" y="327" width="122" height="71"/><text x="879" y="349.5"><tspan x="879">regulation of</tspan><tspan x="879" dy="19.5">response to</tspan><tspan x="879" dy="19.5">stimulus</tspan></text>
<rect x="1097" y="337" width="123" height="51"/><text x="1158.5" y="359.5"><tspan x="1158.5">regulation of</tspan><tspan x="1158.5" dy="19.5">localization</tspan></text>
<rect x="1287" y="337" width="163" height="51"/><text x="1368.5" y="359.5"><tspan x="1368.5">cellular response</tspan><tspan x="1368.5" dy="19.5">to stimulus</tspan></text>
<rect x="1517" y="337" width="121" height="51"/><text x="1577.5" y="359.5"><tspan x="1577.5">response to</tspan><tspan x="1577.5" dy="19.5">chemical</tspan></text>
<rect x="-41" y="459" width="186" height="51"/><text x="52" y="481.5"><tspan x="52">regulation of</tspan><tspan x="52" dy="19.5">cell communication</tspan></text>
<rect x="215" y="469" width="178" height="31"/><text x="304" y="491">signal transduction</text>
<rect x="462" y="469" width="131" height="31"/><text x="527.5" y="491">cell migration</text>
<rect x="661" y="459" width="122" height="51"/><text x="722" y="481.5"><tspan x="722">regulation of</tspan><tspan x="722" dy="19.5">cell motility</tspan></text>
<rect x="928" y="449" width="174" height="71"/><text x="1015" y="471.5"><tspan x="1015">positive regulation</tspan><tspan x="1015" dy="19.5">of response</tspan><tspan x="1015" dy="19.5">to stimulus</tspan></text>
<rect x="1170" y="459" width="180" height="51"/><text x="1260" y="481.5"><tspan x="1260">regulation of</tspan><tspan x="1260" dy="19.5">cellular localization</tspan></text>
<rect x="1497" y="449" width="166" height="71"/><text x="1580" y="471.5"><tspan x="1580">cellular response</tspan><tspan x="1580" dy="19.5">to chemical</tspan><tspan x="1580" dy="19.5">stimulus</tspan></text>
<rect x="137" y="591" width="179" height="51"/><text x="226.5" y="613.5"><tspan x="226.5">regulation of</tspan><tspan x="226.5" dy="19.5">signal transduction</tspan></text>
<rect x="462" y="591" width="178" height="51"/><text x="551" y="613.5"><tspan x="551">intracellular</tspan><tspan x="551" dy="19.5">signal transduction</tspan></text>
<rect x="710" y="591" width="147" height="51"/><text x="783.5" y="613.5"><tspan x="783.5">ameboidal-type</tspan><tspan x="783.5" dy="19.5">cell migration</tspan></text>
<rect x="929" y="591" width="129" height="51"/><text x="993.5" y="613.5"><tspan x="993.5">regulation of</tspan><tspan x="993.5" dy="19.5">cell migration</tspan></text>
<rect x="211" y="728" width="178" height="71"/><text x="300" y="750.5"><tspan x="300">regulation of</tspan><tspan x="300" dy="19.5">intracellular</tspan><tspan x="300" dy="19.5">signal transduction</tspan></text>
<rect x="458" y="738" width="203" height="51"/><text x="559.5" y="760.5"><tspan x="559.5">inositol lipid-mediated</tspan><tspan x="559.5" dy="19.5">signaling</tspan></text>
<rect x="729" y="748" width="139" height="32"/><text x="798.5" y="770.5">TOR signaling</text>
<rect x="936" y="748" width="181" height="32"/><text x="1026.5" y="770.5">fibroblast migration</text>
<rect x="1340" y="712" width="163" height="72"/><text x="1421.5" y="734.5"><tspan x="1421.5">cellular response</tspan><tspan x="1421.5" dy="19.5">to oxidative</tspan><tspan x="1421.5" dy="19.5">stress</tspan></text>
<rect class="h" x="1340" y="784" width="83" height="30"/><text x="1381.5" y="804.5">Human</text>
<rect class="h" x="1423" y="784" width="80" height="30"/><text x="1463" y="804.5">PRR5L</text>
<rect x="44" y="887" width="179" height="71"/><text x="133.5" y="909.5"><tspan x="133.5">positive regulation</tspan><tspan x="133.5" dy="19.5">of intracellular</tspan><tspan x="133.5" dy="19.5">signal transduction</tspan></text>
<rect x="378" y="897" width="273" height="51"/><text x="514.5" y="919.5"><tspan x="514.5">phosphatidylinositol-mediated</tspan><tspan x="514.5" dy="19.5">signaling</tspan></text>
<rect x="722" y="876" width="162" height="31"/><text x="803" y="898">TORC2 signaling</text>
<rect class="h" x="722" y="907" width="82" height="31"/><text x="763" y="928">Human</text>
<rect class="h" x="804" y="907" width="80" height="31"/><text x="844" y="928">PRR5L</text>
<rect class="m" x="722" y="938" width="82" height="31"/><text x="763" y="959">Mouse</text>
<rect class="m" x="804" y="938" width="80" height="31"/><text x="844" y="959">Prr5l</text>
<rect x="1025" y="866" width="183" height="51"/><text x="1116.5" y="888.5"><tspan x="1116.5">regulation of</tspan><tspan x="1116.5" dy="19.5">fibroblast migration</tspan></text>
<rect class="h" x="1025" y="917" width="92" height="31"/><text x="1071" y="938">Human</text>
<rect class="h" x="1117" y="917" width="91" height="31"/><text x="1162.5" y="938">PRR5L</text>
<rect class="m" x="1025" y="948" width="92" height="31"/><text x="1071" y="969">Mouse</text>
<rect class="m" x="1117" y="948" width="91" height="31"/><text x="1162.5" y="969">Prr5l</text>
<rect x="1513" y="887" width="123" height="71"/><text x="1574.5" y="909.5"><tspan x="1574.5">regulation of</tspan><tspan x="1574.5" dy="19.5">intracellular</tspan><tspan x="1574.5" dy="19.5">transport</tspan></text>
<rect x="420" y="1031" width="186" height="51"/><text x="513" y="1053.5"><tspan x="513">phosphatidylinositol</tspan><tspan x="513" dy="19.5">3-kinase signaling</tspan></text>
<rect class="m" x="420" y="1082" width="94" height="31"/><text x="467" y="1103">Mouse</text>
<rect class="m" x="514" y="1082" width="92" height="31"/><text x="560" y="1103">Prr5l</text>
<rect x="209" y="1170" width="187" height="71"/><text x="302.5" y="1192.5"><tspan x="302.5">regulation of</tspan><tspan x="302.5" dy="19.5">phosphatidylinositol</tspan><tspan x="302.5" dy="19.5">3-kinase signaling</tspan></text>
<rect x="197" y="1299" width="211" height="71"/><text x="302.5" y="1321.5"><tspan x="302.5">positive regulation</tspan><tspan x="302.5" dy="19.5">of phosphatidylinositol</tspan><tspan x="302.5" dy="19.5">3-kinase signaling</tspan></text>
<rect class="m" x="197" y="1370" width="106" height="30"/><text x="250" y="1390.5">Mouse</text>
<rect class="m" x="303" y="1370" width="105" height="30"/><text x="355.5" y="1390.5">Prr5l</text>
</g>

<!-- REGION 6 -->
<g transform="translate(5165,0) scale(0.6631)">
<path class="n" d="M0,195 L555,242"/>
<path class="n" d="M0,300 C200,305 400,315 520,345"/>
<path class="n" d="M0,285 C100,300 140,320 175,340"/>
<path class="e" d="M611,345 L611,268"/>
<path class="e" d="M800,337 L645,268"/>
<path class="e" d="M1100,459 C1000,330 900,260 670,253"/>
<path class="e" d="M235,459 L235,390"/>
<path class="e" d="M410,459 L285,390"/>
<path class="e" d="M815,459 L650,380"/>
<path class="e" d="M865,459 L860,390"/>
<path class="e" d="M60,581 L30,522"/>
<path class="e" d="M125,581 L205,512"/>
<path class="e" d="M0,680 C150,690 300,650 425,512"/>
<path class="n" d="M0,420 C100,430 150,440 175,459"/>
<path class="e" d="M930,601 L1070,512"/>
<path class="e" d="M788,600 C900,550 1000,540 1055,512"/>
<path class="e" d="M1153,601 L935,512"/>
<path class="e" d="M1435,738 C1400,600 1300,530 1185,505"/>
<path class="e" d="M1400,738 L1220,635"/>
<path class="e" d="M810,738 L888,636"/>
<path class="e" d="M1010,738 L920,636"/>
<path class="e" d="M285,738 C350,700 550,650 610,380"/>
<path class="e" d="M0,690 C150,700 300,680 655,652"/>
<path class="e" d="M15,887 L50,792"/>
<path class="e" d="M185,897 L85,792"/>
<path class="e" d="M215,1036 L215,950"/>
<path class="e" d="M160,1036 L45,958"/>
<path class="e" d="M670,897 L570,792"/>
<path class="e" d="M1210,887 C1000,820 800,810 585,792"/>
<path class="e" d="M1000,906 L825,792"/>
<path class="e" d="M1028,906 L1032,792"/>
<path class="e" d="M1048,906 C1150,850 1300,820 1390,792"/>
<path class="e" d="M950,1046 L1200,958"/>
<path class="e" d="M1245,1036 L1262,958"/>
<path class="e" d="M1132,1045 L780,950"/>
<path class="e" d="M610,1046 C500,950 400,850 290,792"/>
<path class="e" d="M720,1046 C800,1000 900,990 1000,940"/>
<path class="e" d="M705,1170 L830,1100"/>
<path class="e" d="M877,1180 L875,1100"/>
<path class="e" d="M967,1195 L1140,1107"/>
<path class="e" d="M820,1180 C600,1130 480,1000 400,950 C300,870 200,830 85,792"/>
<path class="e" d="M560,1180 C480,1140 420,1060 370,1030 C300,990 200,980 45,958"/>
<path class="e" d="M563,1299 C565,1270 575,1250 590,1243"/>
<path class="e" d="M474,1333 C360,1330 290,1250 235,1110"/>
<path class="e" d="M649,1333 C750,1330 800,1280 855,1234"/>
<path class="n" d="M0,1065 L129,1068"/>
<path class="n" d="M0,850 C300,860 500,880 600,897"/>
<path class="e" d="M820,1046 C700,1020 500,1000 300,950"/>
<path class="b" d="M705,581 L620,380"/>
<path class="k" d="M0,275 C200,262 400,255 555,253"/>
<path class="k" d="M0,425 C200,410 400,395 521,380"/>
<path class="k" d="M90,738 C150,690 250,680 350,675 C550,670 700,690 800,680 C840,670 860,650 870,636"/>
<path class="gr" d="M250,897 C330,840 360,760 380,720 C420,680 600,685 700,682 C800,680 850,660 875,638"/>
<path class="k" d="M580,738 C650,700 800,680 950,670 C1050,665 1100,650 1145,635"/>
<path class="gr" d="M747,897 C800,870 850,850 1000,850 C1150,850 1200,820 1200,635"/>
<path class="b" d="M700,1046 C800,1010 840,990 850,950 C870,880 900,850 1000,845 C1150,840 1230,830 1230,760 C1230,700 1215,660 1210,635"/>
<path class="k" d="M50,887 L205,792"/>
<path class="gr" d="M290,1036 C350,990 360,930 340,870 C320,830 300,810 285,792"/>
<path class="k" d="M1310,887 L1415,792"/>
<path class="gr" d="M1335,1036 C1420,1000 1445,900 1445,792"/>
<path class="k" d="M900,1046 L1005,941"/>
<path class="gr" d="M925,1180 C1000,1130 1025,1050 1023,941"/>
<path class="k" d="M640,1170 L640,1100"/>
<path class="gr" d="M563,1299 C550,1270 520,1270 515,1200 C510,1150 550,1120 585,1100"/>

<rect x="555" y="233" width="112" height="32"/><text x="611" y="255.5">localization</text>
<rect x="175" y="337" width="118" height="51"/><text x="234" y="359.5"><tspan x="234">response to</tspan><tspan x="234" dy="19.5">stress</tspan></text>
<rect x="521" y="345" width="181" height="33"/><text x="611.5" y="367.5">cellular localization</text>
<rect x="782" y="337" width="149" height="51"/><text x="856.5" y="359.5"><tspan x="856.5">macromolecule</tspan><tspan x="856.5" dy="19.5">localization</tspan></text>
<rect x="153" y="459" width="163" height="51"/><text x="234.5" y="481.5"><tspan x="234.5">cellular response</tspan><tspan x="234.5" dy="19.5">to stress</tspan></text>
<rect x="384" y="459" width="155" height="51"/><text x="461.5" y="481.5"><tspan x="461.5">response to</tspan><tspan x="461.5" dy="19.5">oxidative stress</tspan></text>
<rect x="762" y="459" width="214" height="51"/><text x="869" y="481.5"><tspan x="869">cellular macromolecule</tspan><tspan x="869" dy="19.5">localization</tspan></text>
<rect x="1046" y="459" width="137" height="51"/><text x="1114.5" y="481.5"><tspan x="1114.5">establishment</tspan><tspan x="1114.5" dy="19.5">of localization</tspan></text>
<rect x="-8" y="581" width="169" height="71"/><text x="76.5" y="603.5"><tspan x="76.5">cellular response</tspan><tspan x="76.5" dy="19.5">to chemical</tspan><tspan x="76.5" dy="19.5">stress</tspan></text>
<rect x="652" y="581" width="136" height="71"/><text x="720" y="603.5"><tspan x="720">establishment</tspan><tspan x="720" dy="19.5">of localization</tspan><tspan x="720" dy="19.5">in cell</tspan></text>
<rect x="857" y="601" width="91" height="31"/><text x="902.5" y="623">transport</text>
<rect x="1104" y="601" width="179" height="31"/><text x="1193.5" y="623">protein localization</text>
<rect x="-5" y="738" width="124" height="51"/><text x="57" y="760.5"><tspan x="57">regulation of</tspan><tspan x="57" dy="19.5">transport</tspan></text>
<rect x="187" y="738" width="115" height="51"/><text x="244.5" y="760.5"><tspan x="244.5">intracellular</tspan><tspan x="244.5" dy="19.5">transport</tspan></text>
<rect x="449" y="738" width="178" height="51"/><text x="538" y="760.5"><tspan x="538">regulation of</tspan><tspan x="538" dy="19.5">protein localization</tspan></text>
<rect x="696" y="738" width="180" height="51"/><text x="786" y="760.5"><tspan x="786">nitrogen compound</tspan><tspan x="786" dy="19.5">transport</tspan></text>
<rect x="947" y="738" width="174" height="51"/><text x="1034" y="760.5"><tspan x="1034">organic substance</tspan><tspan x="1034" dy="19.5">transport</tspan></text>
<rect x="1343" y="738" width="201" height="51"/><text x="1443.5" y="760.5"><tspan x="1443.5">establishment</tspan><tspan x="1443.5" dy="19.5">of protein localization</tspan></text>
<rect x="129" y="897" width="173" height="51"/><text x="215.5" y="919.5"><tspan x="215.5">positive regulation</tspan><tspan x="215.5" dy="19.5">of transport</tspan></text>
<rect x="599" y="897" width="201" height="51"/><text x="699.5" y="919.5"><tspan x="699.5">positive regulation</tspan><tspan x="699.5" dy="19.5">of protein localization</tspan></text>
<rect x="945" y="906" width="157" height="32"/><text x="1023.5" y="928.5">protein transport</text>
<rect x="1170" y="887" width="200" height="71"/><text x="1270" y="909.5"><tspan x="1270">regulation of</tspan><tspan x="1270" dy="19.5">establishment</tspan><tspan x="1270" dy="19.5">of protein localization</tspan></text>
<rect x="129" y="1036" width="173" height="71"/><text x="215.5" y="1058.5"><tspan x="215.5">positive regulation</tspan><tspan x="215.5" dy="19.5">of intracellular</tspan><tspan x="215.5" dy="19.5">transport</tspan></text>
<rect x="561" y="1046" width="157" height="51"/><text x="639.5" y="1068.5"><tspan x="639.5">intracellular</tspan><tspan x="639.5" dy="19.5">protein transport</tspan></text>
<rect x="794" y="1046" width="157" height="51"/><text x="872.5" y="1068.5"><tspan x="872.5">regulation of</tspan><tspan x="872.5" dy="19.5">protein transport</tspan></text>
<rect x="1132" y="1036" width="201" height="71"/><text x="1232.5" y="1058.5"><tspan x="1232.5">positive regulation</tspan><tspan x="1232.5" dy="19.5">of establishment</tspan><tspan x="1232.5" dy="19.5">of protein localization</tspan></text>
<rect x="561" y="1170" width="157" height="71"/><text x="639.5" y="1192.5"><tspan x="639.5">regulation of</tspan><tspan x="639.5" dy="19.5">intracellular</tspan><tspan x="639.5" dy="19.5">protein transport</tspan></text>
<rect x="788" y="1180" width="179" height="52"/><text x="877.5" y="1202.5"><tspan x="877.5">positive regulation</tspan><tspan x="877.5" dy="19.5">of protein transport</tspan></text>
<rect x="474" y="1299" width="175" height="71"/><text x="561.5" y="1321.5"><tspan x="561.5">positive regulation</tspan><tspan x="561.5" dy="19.5">of intracellular</tspan><tspan x="561.5" dy="19.5">protein transport</tspan></text>
<rect class="h" x="474" y="1370" width="89" height="30"/><text x="518.5" y="1390.5">Human</text>
<rect class="h" x="563" y="1370" width="86" height="30"/><text x="606" y="1390.5">PRR5L</text>
</g>
</svg>
</body></html>
